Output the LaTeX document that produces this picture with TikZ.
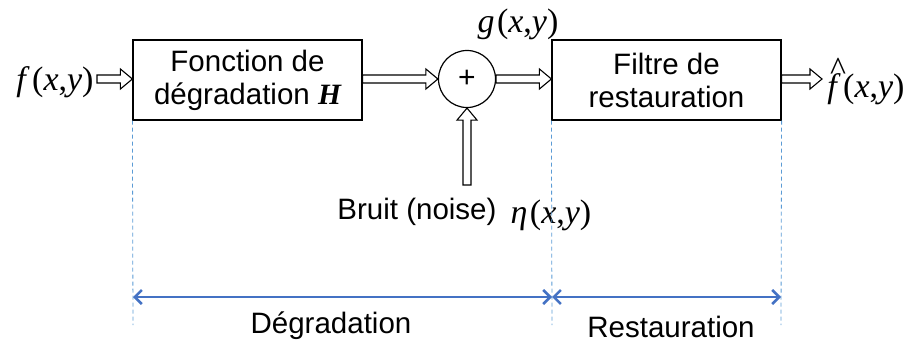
\documentclass[tikz,border=0pt]{standalone}
\usepackage{fontspec}
\setmainfont{Liberation Sans}
\newfontfamily\tms{Liberation Serif}
\usetikzlibrary{arrows.meta,calc}
\definecolor{dblue}{RGB}{68,114,196}
\definecolor{lblue}{RGB}{91,155,213}
\newcommand{\fxy}[1]{\textit{#1}\kern0.07em(\textit{x},\textit{y})}
\tikzset{
  blk/.style={draw, line width=1.2pt, minimum width=229pt, minimum height=80pt,
    align=center, font=\fontsize{29.5}{33}\selectfont, inner sep=0pt},
  sumnode/.style={draw, circle, line width=1.2pt, minimum size=57pt, inner sep=0pt,
    font=\fontsize{30}{34}\selectfont},
  lbl/.style={font=\fontsize{29.5}{34}\selectfont, inner sep=0pt},
  mth/.style={font=\tms\fontsize{34}{40}\selectfont, inner sep=0pt},
  hollow/.style={draw, fill=white, line width=1.1pt, line join=miter,
    to path={let \p1=(\tikztostart), \p2=(\tikztotarget),
      \n1={atan2(\y2-\y1,\x2-\x1)}, \n2={veclen(\x2-\x1,\y2-\y1)} in
      ($(\p1)+(\n1+90:4pt)$)
      -- ($(\p1)+(\n1:{\n2*1pt-12pt})+(\n1+90:4pt)$)
      -- ($(\p1)+(\n1:{\n2*1pt-12pt})+(\n1+90:10pt)$)
      -- (\p2)
      -- ($(\p1)+(\n1:{\n2*1pt-12pt})+(\n1-90:10pt)$)
      -- ($(\p1)+(\n1:{\n2*1pt-12pt})+(\n1-90:4pt)$)
      -- ($(\p1)+(\n1-90:4pt)$) -- cycle}},
  dsh/.style={draw=lblue, line width=0.8pt, dash pattern=on 4pt off 3pt},
  barr/.style={draw=dblue, line width=2.5pt,
    {Straight Barb[length=7pt,width=14pt,line width=2.5pt]}-{Straight Barb[length=7pt,width=14pt,line width=2.5pt]}},
}
\begin{document}
\begin{tikzpicture}[x=1pt,y=-1pt]
\useasboundingbox (0,0) rectangle (909,342);

\node[blk] (b1) at (247.5,80) {Fonction de\\dégradation {\tms\bfseries\itshape H}};
\node[sumnode] (s) at (467,79) {+};
\node[blk] (b2) at (666.5,80) {Filtre de\\restauration};

\node[mth] (f) at (55,82) {\fxy{f}};
\node[mth] (fh) at (866,82) {\makebox[0pt][l]{\hspace{0.08em}\raisebox{0.5em}{\^{}}}\fxy{f}};
\node[mth] (g) at (518,24) {\fxy{g}};
\node[lbl] (br) at (417,212) {Bruit (noise)};
\node[mth] (eta) at (551,215) {\fxy{η}};

\coordinate (fin) at (97,79);
\coordinate (fout) at (822,79);
\coordinate (nin) at (467,185);

\path[hollow] (fin) to (b1.west |- fin);
\path[hollow] (b1.east |- s) to (s.west);
\path[hollow] (s.east) to (b2.west |- s);
\path[hollow] (b2.east |- fout) to (fout);
\path[hollow] (nin) to (s.south);

\coordinate (d1) at (133,325);
\coordinate (d2) at (552,325);
\coordinate (d3) at (781,325);
\draw[dsh] (b1.south west) -- (d1);
\draw[dsh] (b2.south west) -- (d2);
\draw[dsh] (b2.south east) -- (d3);

\coordinate (a1) at (133,297);
\coordinate (a2) at (552,297);
\coordinate (a3) at (781,297);
\draw[barr] (a1) -- (a2);
\draw[barr] (a2) -- (a3);

\node[lbl] (dg) at (331,326) {Dégradation};
\node[lbl] (rs) at (671,327) {Restauration};
\end{tikzpicture}
\end{document}
